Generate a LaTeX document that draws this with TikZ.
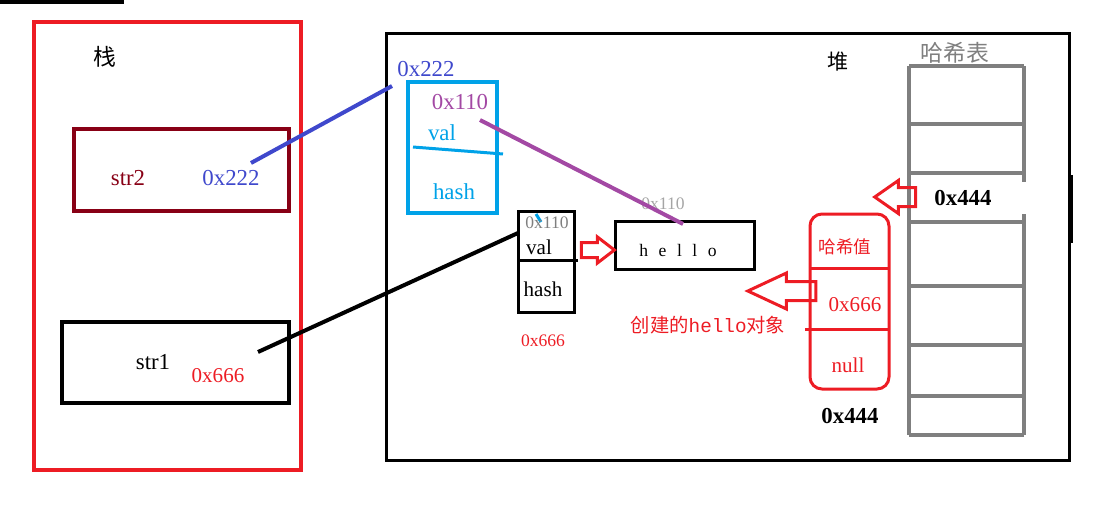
\documentclass[tikz,border=0pt]{standalone}
\usepackage{fontspec}
\setmainfont{Liberation Serif}
\setmonofont{Liberation Mono}
\newfontfamily\cjk{Noto Sans CJK SC}
\usetikzlibrary{shapes.arrows}
\definecolor{memred}{HTML}{ED1C24}
\definecolor{refred}{HTML}{880015}
\definecolor{addrblue}{HTML}{3F48CC}
\definecolor{objcyan}{HTML}{00A2E8}
\definecolor{valpurple}{HTML}{A349A4}
\definecolor{tablegray}{HTML}{7F7F7F}
\begin{document}
\begin{tikzpicture}[x=0.02cm,y=-0.02cm,
    wide/.style={line width=0.08cm},
    mid/.style={line width=0.06cm},
    bigtxt/.style={inner sep=0pt,font=\fontsize{13}{15}\selectfont},
    boldtxt/.style={inner sep=0pt,font=\fontsize{13}{15}\selectfont\bfseries},
    midtxt/.style={inner sep=0pt,font=\fontsize{12}{14}\selectfont},
    smalltxt/.style={inner sep=0pt,font=\fontsize{10}{12}\selectfont},
    hollow/.style={single arrow,draw=memred,mid,inner xsep=0pt,text height=0pt,text depth=0pt}]
    \useasboundingbox (0,0) rectangle (1098,507);

    \draw[black, wide] (0,2) -- (124,2);
    \draw[memred, wide] (34,22) rectangle (301,470);
    \node[inner sep=0pt, font=\cjk\fontsize{13}{15}\selectfont] (stack) at (105,57) {栈};

    \draw[refred, wide] (74,129) rectangle (289,211);
    \node[bigtxt, refred] (str2) at (128,178) {str2};
    \node[bigtxt, addrblue] (str2val) at (231,178) {0x222};

    \draw[black, wide] (62,322) rectangle (289,403);
    \node[bigtxt] (str1) at (153,362) {str1};
    \node[midtxt, memred] (str1val) at (218,376) {0x666};

    \draw[black, mid] (386,33) rectangle (1069,460);
    \draw[black, line width=0.07cm] (1071,175) -- (1071,243);
    \node[inner sep=0pt, font=\cjk\fontsize{12}{14}\selectfont] (heap) at (838,62) {堆};

    \node[bigtxt, addrblue] (obj2addr) at (426,69) {0x222};
    \draw[objcyan, wide] (408,82) rectangle (497,213);
    \node[bigtxt, valpurple] (obj2hash0) at (460,102) {0x110};
    \node[bigtxt, objcyan] (obj2val) at (442,133) {val};
    \draw[objcyan, mid] (413,147) -- (503,154);
    \node[bigtxt, objcyan] (obj2hash) at (454,192) {hash};

    \draw[black, mid] (518,211) rectangle (574,312);
    \draw[black, mid] (518,260) -- (578,260);
    \draw[objcyan, mid] (536,214) -- (541,222);
    \node[smalltxt, tablegray] (obj1hash0) at (547,223) {0x110};
    \node[midtxt] (obj1val) at (539,247) {val};
    \node[midtxt] (obj1hash) at (543,289) {hash};
    \node[smalltxt, memred] (obj1addr) at (543,341) {0x666};

    \draw[black, mid] (615,221) rectangle (754,269);
    \node[smalltxt] (hello) at (678,250) {h\hspace{6pt}e\hspace{6pt}l\hspace{6pt}l\hspace{6pt}o};
    \node[smalltxt, tablegray!70] (hellohash) at (663,204) {0x110};
    \node[inner sep=0pt, memred, font=\cjk\fontsize{11}{13}\selectfont] (hellonote) at (708,325) {创建的{\ttfamily hello}对象};

    \node[hollow, minimum height=0.66cm, minimum width=0.46cm, single arrow head extend=0.11cm,
        inner ysep=0.12cm, single arrow tip angle=75] (valarrow) at (593,250) {};
    \node[hollow, shape border rotate=180, minimum height=1.36cm, minimum width=0.66cm,
        single arrow head extend=0.17cm, inner ysep=0.16cm, single arrow tip angle=50] (poolarrow) at (792,291) {};

    \draw[memred, mid, rounded corners=0.24cm] (810,214) rectangle (889,389);
    \draw[memred, mid] (810,268) -- (889,268);
    \draw[memred, mid] (805,329) -- (889,329);
    \node[inner sep=0pt, memred, font=\cjk\fontsize{10}{12}\selectfont] (entryhash) at (845,247) {哈希值};
    \node[midtxt, memred] (entryref) at (855,305) {0x666};
    \node[midtxt, memred] (entrynext) at (848,365) {null};
    \node[boldtxt] (entryaddr) at (850,416) {0x444};

    \foreach \y in {66,124,173,222,286,345,396,435}
        \draw[tablegray, wide] (909,\y) -- (1024,\y);
    \draw[tablegray, wide] (909,66) -- (909,435);
    \draw[tablegray, wide] (1024,66) -- (1024,182) (1024,214) -- (1024,435);
    \node[inner sep=0pt, tablegray, font=\cjk\fontsize{13}{15}\selectfont] (table) at (955,53) {哈希表};
    \node[boldtxt] (slot) at (963,198) {0x444};
    \node[hollow, shape border rotate=180, minimum height=0.82cm, minimum width=0.6cm,
        single arrow head extend=0.14cm, inner ysep=0.16cm, single arrow tip angle=70] (slotarrow) at (902,197) {};

    \coordinate (str2out) at (251,163);
    \coordinate (obj2in) at (392,86);
    \coordinate (str1out) at (258,352);
    \coordinate (obj1in) at (518,233);
    \coordinate (valout) at (480,120);
    \coordinate (helloin) at (683,224);
    \draw[addrblue, wide] (str2out) -- (obj2in);
    \draw[black, wide] (str1out) -- (obj1in);
    \draw[valpurple, wide] (valout) -- (helloin);
\end{tikzpicture}
\end{document}
